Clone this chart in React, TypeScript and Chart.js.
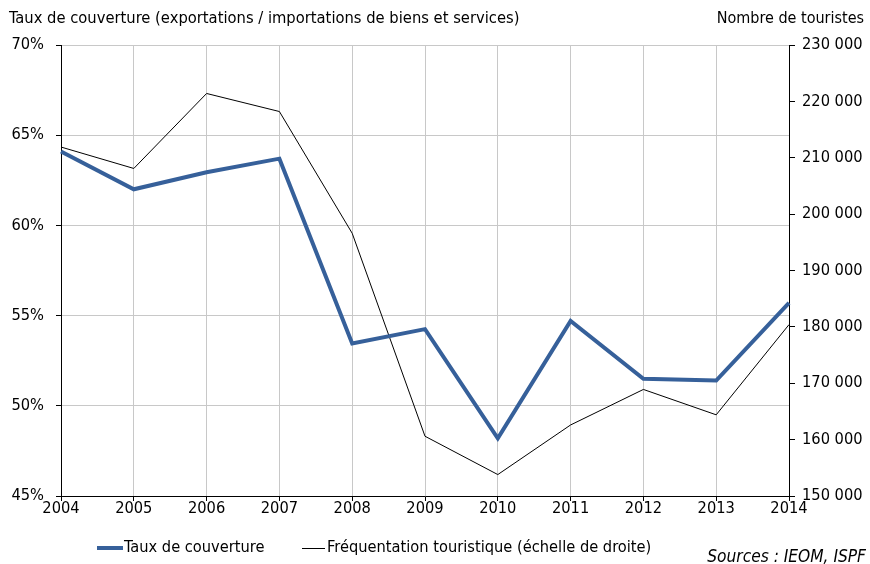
import React, { useEffect, useRef } from "react";
import { Chart, registerables } from "chart.js";

Chart.register(...registerables);

const years = ["2004", "2005", "2006", "2007", "2008", "2009", "2010", "2011", "2012", "2013", "2014"];
const tauxCouverture = [64.1, 62.0, 62.95, 63.7, 53.45, 54.25, 48.2, 54.7, 51.5, 51.4, 55.7];
const frequentation = [211900, 208100, 221400, 218200, 196600, 160600, 153800, 162600, 168900, 164400, 180400];

const leftTitle = "Taux de couverture (exportations / importations de biens et services)";
const rightTitle = "Nombre de touristes";
const legendLabels = ["Taux de couverture", "Fréquentation touristique (échelle de droite)"];
const sourceText = "Sources : IEOM, ISPF";

const FONT = "'DejaVu Sans Condensed', 'DejaVu Sans', sans-serif";
const BLUE = "#36609a";
const GRID = "#c8c8c8";

const textPlugin = {
  id: "textPlugin",
  afterDraw(chart: any) {
    const ctx = chart.ctx;
    ctx.save();
    ctx.fillStyle = "#000";
    ctx.textBaseline = "middle";
    ctx.font = `16.4px ${FONT}`;
    ctx.textAlign = "left";
    ctx.fillText(leftTitle, 9, 19);
    ctx.font = `16px ${FONT}`;
    ctx.textAlign = "right";
    ctx.fillText(rightTitle, 864, 19);

    // legend
    const ly = 548;
    ctx.lineCap = "butt";
    ctx.strokeStyle = BLUE;
    ctx.lineWidth = 4;
    ctx.beginPath();
    ctx.moveTo(97, ly);
    ctx.lineTo(123, ly);
    ctx.stroke();
    ctx.textAlign = "left";
    ctx.font = `16.3px ${FONT}`;
    ctx.fillText(legendLabels[0], 124, ly);
    ctx.strokeStyle = "#000";
    ctx.lineWidth = 1;
    ctx.beginPath();
    ctx.moveTo(302, ly + 0.5);
    ctx.lineTo(325, ly + 0.5);
    ctx.stroke();
    ctx.fillText(legendLabels[1], 327, ly);

    ctx.font = `italic 17.2px ${FONT}`;
    ctx.textAlign = "right";
    ctx.fillText(sourceText, 866, 558);
    ctx.restore();
  },
};

export default function App() {
  const ref = useRef<HTMLCanvasElement | null>(null);

  useEffect(() => {
    document.body.style.margin = "0";
    const canvas = ref.current!;
    const chart = new Chart(canvas, {
      type: "line",
      data: {
        labels: years,
        datasets: [
          {
            label: legendLabels[0],
            data: tauxCouverture,
            borderColor: BLUE,
            borderWidth: 4,
            pointRadius: 0,
            tension: 0,
            yAxisID: "y",
            fill: false,
          },
          {
            label: legendLabels[1],
            data: frequentation,
            borderColor: "#000",
            borderWidth: 1,
            pointRadius: 0,
            tension: 0,
            yAxisID: "y2",
            fill: false,
          },
        ],
      },
      options: {
        responsive: false,
        animation: false,
        devicePixelRatio: 1,
        layout: { padding: { left: 0, right: 0, top: 45, bottom: 43 } },
        plugins: {
          legend: { display: false },
          tooltip: { enabled: false },
        },
        scales: {
          x: {
            offset: false,
            grid: { color: GRID, tickColor: "#000", tickLength: 5, drawOnChartArea: true },
            border: { display: true, color: "#000", width: 1 },
            ticks: { color: "#000", font: { family: FONT, size: 16.3 }, padding: -2, maxRotation: 0, autoSkip: false },
            afterFit(scale: any) {
              scale.height = 25;
            },
          },
          y: {
            position: "left",
            min: 45,
            max: 70,
            grid: { color: GRID, tickColor: "#000", tickLength: 5 },
            border: { display: true, color: "#000", width: 1 },
            ticks: {
              stepSize: 5,
              color: "#000",
              padding: 12,
              font: { family: FONT, size: 16.3 },
              callback: (v: any) => `${v}%`,
            },
            afterFit(scale: any) {
              scale.width = 61;
            },
          },
          y2: {
            position: "right",
            min: 150000,
            max: 230000,
            grid: { drawOnChartArea: false, tickColor: "#000", tickLength: 6 },
            border: { display: true, color: "#000", width: 1 },
            ticks: {
              stepSize: 10000,
              color: "#000",
              padding: 7,
              font: { family: FONT, size: 16.3 },
              callback: (v: any) => String(v).replace(/\B(?=(\d{3})+(?!\d))/g, " "),
            },
            afterFit(scale: any) {
              scale.width = 81;
            },
          },
        },
      },
      plugins: [textPlugin],
    });
    return () => chart.destroy();
  }, []);

  return <canvas ref={ref} width={870} height={564} style={{ display: "block" }} />;
}
